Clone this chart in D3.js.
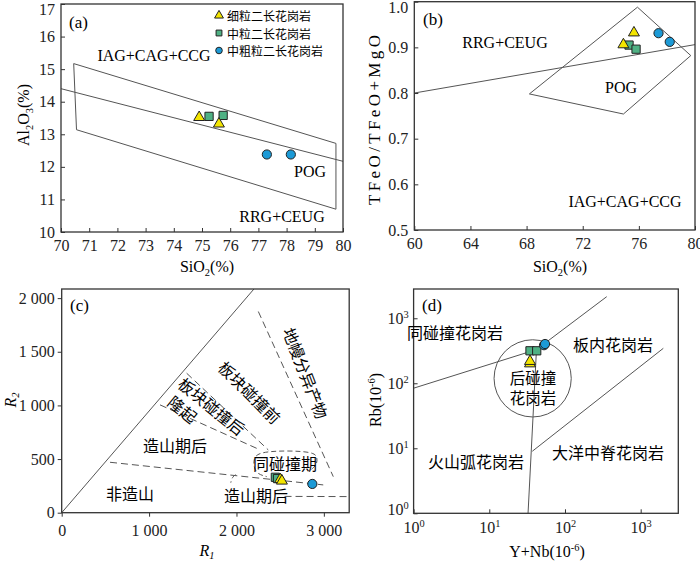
<!DOCTYPE html>
<html>
<head>
<meta charset="utf-8">
<script src="https://cdn.jsdelivr.net/npm/d3@7"></script>
<style>
body { margin: 0; background: #fff; }
</style>
</head>
<body>
<svg id="fig" width="700" height="561"></svg>
<script>
// (a) SiO2 - Al2O3
const aTri = [[74.9, 13.52], [75.6, 13.32]];
const aSq = [[75.25, 13.55], [75.75, 13.58]];
const aCir = [[77.3, 12.38], [78.15, 12.38]];
const aBox = [[70.45, 15.17], [70.55, 13.14], [79.75, 10.7], [79.75, 12.72]];
const aLine = [[70, 14.4], [80, 12.17]];
const aXTicks = [70, 71, 72, 73, 74, 75, 76, 77, 78, 79, 80];
const aYTicks = [10, 11, 12, 13, 14, 15, 16, 17];

// (b) SiO2 - TFeO/(TFeO+MgO)
const bTri = [[75.65, 0.932], [74.9, 0.906]];
const bSq = [[75.3, 0.905], [75.8, 0.896]];
const bCir = [[77.4, 0.931], [78.2, 0.912]];
const bLine = [[60, 0.80], [80, 0.906]];
const bPOG = [[68.2, 0.798], [75.9, 0.988], [79.7, 0.882], [74.9, 0.754]];
const bXTicks = [60, 64, 68, 72, 76, 80];
const bYTicks = [0.5, 0.6, 0.7, 0.8, 0.9, 1.0];

// (c) R1 - R2
const cTri = [[2500, 310], [2520, 296]];
const cSq = [[2445, 330], [2470, 318]];
const cCir = [[2868, 268]];
const cSolid = [[0, 0], [2200, 2085]];
const cDash = [
  [[553, 470], [2993, 259]],
  [[2550, 152], [3290, 150]],
  [[2250, 1875], [3108, 336]],
  [[1430, 1300], [2364, 585]],
  [[1125, 1005], [2231, 600]]
];
const cBox = [[2860, 405], [2922, 450], [2925, 520], [2880, 565], [2574, 580], [2250, 565], [2195, 500], [2200, 420], [2240, 360], [2346, 336]];
const cHook = [[1990, 355], [1950, 330], [1935, 280]];
const cXTicks = [0, 1000, 2000, 3000];
const cYTicks = [0, 500, 1000, 1500, 2000];

// (d) Y+Nb - Rb
const dTri = [[34.5, 200], [34.5, 218]];
const dSq = [[34.5, 316], [42.3, 316]];
const dCir = [[52.8, 385], [54.5, 402]];
const dLines = [
  [[1, 84], [42, 330]],
  [[42, 330], [356, 2150]],
  [[32.5, 1], [42, 330]],
  [[37, 9], [1990, 345]]
];
const dRing = [37.4, 119, 0.51]; // centre x, centre y, radius in decades of x
const dTicks = [1, 10, 100, 1000];

const legendNames = ["细粒二长花岗岩", "中粒二长花岗岩", "中粗粒二长花岗岩"];

const serif = '"Liberation Serif", "Times New Roman", "DejaVu Serif", serif';
const zhFont = '"Noto Sans CJK SC", "Noto Sans CJK JP", sans-serif';

const svg = d3.select("#fig");
const triCol = "#f3e500", sqCol = "#4fb184", cirCol = "#1c9ad6", lineCol = "#555";

const triPath = d3.symbol(d3.symbolTriangle, 52)();
const sqPath = d3.symbol(d3.symbolSquare, 68)();

function rich(t, parts, sub) {
  let shift = 0;
  parts.forEach(([s, k]) => {
    const want = k === "sub" ? (sub || 4) : k === "sup" ? -6 : 0;
    t.append("tspan").attr("dy", want - shift)
      .attr("font-size", k === "n" ? null : "0.65em").text(s);
    shift = want;
  });
  return t;
}

function axes(g, x, y, o) {
  const [x0, x1] = x.range(), [y0, y1] = y.range();
  const xa = g.append("g").attr("transform", `translate(0,${y0})`)
    .call(d3.axisBottom(x).tickValues(o.xt).tickFormat(o.xf || (d => d))
      .tickSizeInner(o.tick).tickSizeOuter(0).tickPadding(8));
  const ya = g.append("g").attr("transform", `translate(${x0},0)`)
    .call(d3.axisLeft(y).tickValues(o.yt).tickFormat(o.yf || (d => d))
      .tickSizeInner(o.tick).tickSizeOuter(0).tickPadding(o.ypad || 6));
  [xa, ya].forEach(a => {
    a.attr("font-family", null).attr("font-size", null);
    a.select(".domain").remove();
    a.selectAll("line").attr("stroke", "#333");
    a.selectAll("text").attr("font-size", 16).attr("fill", "#222");
  });
  ya.selectAll(".tick text").filter(d => y(d) < 8).attr("dy", "0.68em");
  g.append("rect").attr("x", x0).attr("y", y1)
    .attr("width", x1 - x0).attr("height", y0 - y1)
    .attr("fill", "none").attr("stroke", "#333").attr("stroke-width", 1.3);
  return [xa, ya];
}

function points(g, x, y, tri, sq, cir, r) {
  g.selectAll(null).data(sq).join("path").attr("d", sqPath)
    .attr("transform", d => `translate(${x(d[0])},${y(d[1])})`)
    .attr("fill", sqCol).attr("stroke", "#222").attr("stroke-width", 1);
  g.selectAll(null).data(tri).join("path").attr("d", triPath)
    .attr("transform", d => `translate(${x(d[0])},${y(d[1])})`)
    .attr("fill", triCol).attr("stroke", "#222").attr("stroke-width", 1);
  g.selectAll(null).data(cir).join("circle")
    .attr("cx", d => x(d[0])).attr("cy", d => y(d[1])).attr("r", r || 4.6)
    .attr("fill", cirCol).attr("stroke", "#222").attr("stroke-width", 1);
}

function label(g, x, y, s, zh, size) {
  return g.append("text").attr("x", x).attr("y", y)
    .attr("text-anchor", "middle").attr("dominant-baseline", "central")
    .attr("class", zh ? "zh" : null).attr("font-size", size || 16).text(s);
}

const line = (x, y) => d3.line().x(d => x(d[0])).y(d => y(d[1]));

// ---------- (a) ----------
{
  const x = d3.scaleLinear().domain([70, 80]).range([61, 343]);
  const y = d3.scaleLinear().domain([10, 17]).range([232, 4]);
  const g = svg.append("g");
  const ln = line(x, y);
  g.append("path").attr("d", ln(aBox) + "Z").attr("fill", "none").attr("stroke", lineCol);
  g.append("path").attr("d", ln(aLine)).attr("fill", "none").attr("stroke", lineCol);
  axes(g, x, y, {xt: aXTicks, yt: aYTicks, tick: -4});
  points(g, x, y, aTri, aSq, aCir);

  label(g, 154, 55, "IAG+CAG+CCG");
  label(g, 310, 171, "POG");
  label(g, 282, 216, "RRG+CEUG");
  g.append("text").attr("x", 69).attr("y", 28).attr("font-size", 17).text("(a)");

  // legend
  const lg = g.append("g");
  const cols = [triCol, sqCol, cirCol];
  legendNames.forEach((n, i) => {
    const cy = 15.5 + i * 17.5;
    if (i < 2) {
      lg.append("path").attr("d", d3.symbol(i === 0 ? d3.symbolTriangle : d3.symbolSquare, 34)())
        .attr("transform", `translate(219,${cy})`).attr("fill", cols[i]).attr("stroke", "#222");
    } else {
      lg.append("circle").attr("cx", 219).attr("cy", cy).attr("r", 3.3)
        .attr("fill", cols[i]).attr("stroke", "#222");
    }
    lg.append("text").attr("class", "zh").attr("x", 227).attr("y", cy)
      .attr("dominant-baseline", "central").attr("font-size", 12).text(n);
  });

  rich(g.append("text").attr("x", 207).attr("y", 272).attr("text-anchor", "middle").attr("font-size", 16),
    [["SiO", "n"], ["2", "sub"], ["(%)", "n"]]);
  rich(g.append("text").attr("transform", "translate(29,115) rotate(-90)").attr("text-anchor", "middle").attr("font-size", 16),
    [["Al", "n"], ["2", "sub"], ["O", "n"], ["3", "sub"], ["(%)", "n"]]);
}

// ---------- (b) ----------
{
  const x = d3.scaleLinear().domain([60, 80]).range([414.3, 695]);
  const y = d3.scaleLinear().domain([0.5, 1.0]).range([230, 1.7]);
  const g = svg.append("g");
  const ln = line(x, y);
  g.append("path").attr("d", ln(bPOG) + "Z").attr("fill", "none").attr("stroke", lineCol);
  g.append("path").attr("d", ln(bLine)).attr("fill", "none").attr("stroke", lineCol);
  axes(g, x, y, {xt: bXTicks, yt: bYTicks, tick: -4, yf: d3.format(".1f")});
  points(g, x, y, bTri, bSq, bCir);

  label(g, 505, 42.5, "RRG+CEUG");
  label(g, 621, 87.5, "POG");
  label(g, 625, 201, "IAG+CAG+CCG");
  g.append("text").attr("x", 423).attr("y", 25).attr("font-size", 17).text("(b)");

  rich(g.append("text").attr("x", 560).attr("y", 272).attr("text-anchor", "middle").attr("font-size", 16),
    [["SiO", "n"], ["2", "sub"], ["(%)", "n"]]);
  g.append("text").attr("transform", "translate(380,120) rotate(-90)").attr("text-anchor", "middle")
    .attr("font-size", 17).attr("textLength", 170).attr("lengthAdjust", "spacing")
    .text("TFeO/TFeO+MgO");
}

// ---------- (c) ----------
{
  const x = d3.scaleLinear().domain([0, 3290]).range([61.7, 349.2]);
  const y = d3.scaleLinear().domain([0, 2085]).range([512.7, 289]);
  const g = svg.append("g");
  const ln = line(x, y);
  g.append("clipPath").attr("id", "clipc").append("rect")
    .attr("x", 61.7).attr("y", 289).attr("width", 349.2 - 61.7).attr("height", 512.7 - 289);
  const lines = g.append("g").attr("clip-path", "url(#clipc)").attr("fill", "none").attr("stroke", lineCol);
  lines.append("path").attr("d", ln(cSolid));
  cDash.forEach(s => lines.append("path").attr("d", ln(s)).attr("stroke-dasharray", "7,4"));
  const curvy = line(x, y).curve(d3.curveBasis);
  lines.append("path").attr("d", curvy(cBox)).attr("stroke-dasharray", "5,3");
  lines.append("path").attr("d", curvy(cHook)).attr("stroke-dasharray", "5,3");

  axes(g, x, y, {xt: cXTicks, yt: cYTicks, tick: 4, ypad: 3,
    xf: d => d3.format(",")(d).replace(/,/g, " "), yf: d => d3.format(",")(d).replace(/,/g, " ")});

  label(g, 175, 445, "造山期后", true);
  label(g, 130, 493, "非造山", true);
  label(g, 285, 463, "同碰撞期", true);
  label(g, 256, 495, "造山期后", true);
  label(g, 306, 373, "地幔分异产物", true).attr("transform", "rotate(69,306,373)");
  label(g, 250, 392, "板块碰撞前", true).attr("transform", "rotate(45,250,392)");
  label(g, 212, 406, "板块碰撞后", true).attr("transform", "rotate(39,212,406)");
  label(g, 183, 409, "隆起", true).attr("transform", "rotate(39,183,409)");

  points(g, x, y, cTri, cSq, cCir);
  g.append("text").attr("x", 70).attr("y", 311).attr("font-size", 17).text("(c)");

  rich(g.append("text").attr("x", 207).attr("y", 556).attr("text-anchor", "middle").attr("font-size", 16).attr("font-style", "italic"),
    [["R", "n"], ["1", "sub"]], 3);
  rich(g.append("text").attr("transform", "translate(16,400) rotate(-90)").attr("text-anchor", "middle").attr("font-size", 16).attr("font-style", "italic"),
    [["R", "n"], ["2", "sub"]], 3);
}

// ---------- (d) ----------
{
  const x = d3.scaleLog().domain([1, 3140]).range([413.6, 678.3]);
  const y = d3.scaleLog().domain([1, 2820]).range([513.3, 289]);
  const g = svg.append("g");
  const ln = line(x, y);
  const lines = g.append("g").attr("fill", "none").attr("stroke", lineCol);
  dLines.forEach(s => lines.append("path").attr("d", ln(s)));
  const [rcx, rcy, rr] = dRing;
  lines.append("circle").attr("cx", x(rcx)).attr("cy", y(rcy))
    .attr("r", x(rcx * Math.pow(10, rr)) - x(rcx));

  const [xa, ya] = axes(g, x, y, {xt: dTicks, yt: dTicks, tick: -4, ypad: 5, xf: () => "", yf: () => ""});
  const pow = (sel) => sel.selectAll(".tick text").each(function (d) {
    const t = d3.select(this);
    t.append("tspan").text("10");
    t.append("tspan").attr("dy", -6).attr("font-size", "0.65em").text(Math.round(Math.log10(d)));
  });
  pow(xa); pow(ya);
  ya.selectAll(".tick text").filter(d => d === 1).attr("dy", "0.05em");

  points(g, x, y, dTri, dSq, dCir, 4.6);

  label(g, 455, 332, "同碰撞花岗岩", true);
  label(g, 613, 344, "板内花岗岩", true);
  label(g, 533, 377, "后碰撞", true, 15.5);
  label(g, 533, 397, "花岗岩", true, 15.5);
  label(g, 476, 461, "火山弧花岗岩", true);
  label(g, 608, 452, "大洋中脊花岗岩", true);
  g.append("text").attr("x", 422).attr("y", 311).attr("font-size", 17).text("(d)");

  rich(g.append("text").attr("x", 547).attr("y", 557).attr("text-anchor", "middle").attr("font-size", 16),
    [["Y+Nb(10", "n"], ["-6", "sup"], [")", "n"]]);
  rich(g.append("text").attr("transform", "translate(381,400) rotate(-90)").attr("text-anchor", "middle").attr("font-size", 16),
    [["Rb(10", "n"], ["-6", "sup"], [")", "n"]]);
}

// fonts: serif for Latin labels, CJK face for Chinese
svg.selectAll("text").each(function () {
  const t = d3.select(this);
  t.style("font-family", t.classed("zh") ? zhFont : serif);
});
</script>
</body>
</html>
